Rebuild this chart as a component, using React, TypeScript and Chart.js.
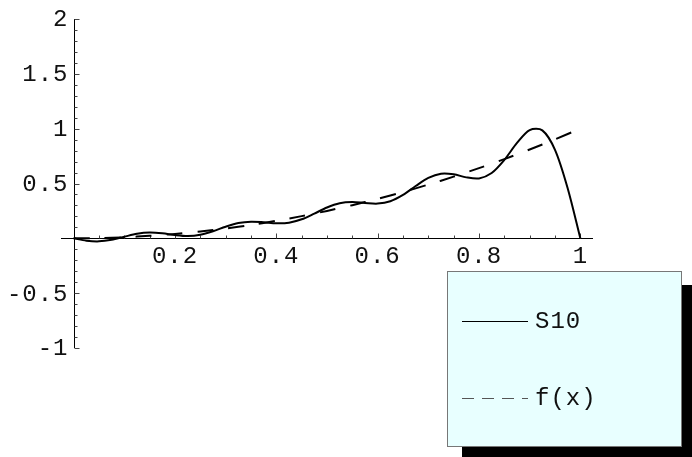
import React, { useEffect, useRef } from "react";
import { Chart, registerables } from "chart.js";

Chart.register(...registerables);

const xS10 = [0, 0.025, 0.05, 0.075, 0.1, 0.125, 0.15, 0.175, 0.2, 0.225, 0.25, 0.275, 0.3, 0.325, 0.35, 0.375, 0.4, 0.425, 0.45, 0.475, 0.5, 0.525, 0.55, 0.575, 0.6, 0.625, 0.65, 0.675, 0.7, 0.725, 0.75, 0.775, 0.8, 0.825, 0.85, 0.875, 0.9, 0.925, 0.95, 0.975, 1];
const s10 = [0, -0.0212, -0.0275, -0.0132, 0.0147, 0.0412, 0.0525, 0.0456, 0.0298, 0.0212, 0.0325, 0.0646, 0.1059, 0.1391, 0.1522, 0.1468, 0.1373, 0.1425, 0.1735, 0.2258, 0.2815, 0.3198, 0.3307, 0.3222, 0.3169, 0.3385, 0.3961, 0.4769, 0.5509, 0.5896, 0.5843, 0.5558, 0.5463, 0.5958, 0.715, 0.8697, 0.9871, 0.9845, 0.8069, 0.4568, 0];

const xF = [0, 0.05, 0.1, 0.15, 0.2, 0.25, 0.3, 0.35, 0.4, 0.45, 0.5, 0.55, 0.6, 0.65, 0.7, 0.75, 0.8, 0.85, 0.9, 0.95, 1];
const fx = [0, 0.0025, 0.01, 0.0225, 0.04, 0.0625, 0.09, 0.1225, 0.16, 0.2025, 0.25, 0.3025, 0.36, 0.4225, 0.49, 0.5625, 0.64, 0.7225, 0.81, 0.9025, 1];

const xTickValues = [0.2, 0.4, 0.6, 0.8, 1];
const xTickLabels = ["0.2", "0.4", "0.6", "0.8", "1"];
const yTickValues = [2, 1.5, 1, 0.5, -0.5, -1];
const yTickLabels = ["2", "1.5", "1", "0.5", "-0.5", "-1"];

const seriesNames = ["S10", "f(x)"];

const FONT = '24px "Liberation Mono", "Courier New", monospace';

const axesPlugin = {
  id: "mmaAxes",
  beforeDatasetsDraw(chart: any) {
    const { ctx, scales } = chart;
    const xs = scales.x;
    const ys = scales.y;
    const x0 = Math.round(xs.getPixelForValue(0)) + 0.5;
    const y0 = Math.round(ys.getPixelForValue(0)) + 0.5;
    ctx.save();
    ctx.strokeStyle = "#000";
    ctx.lineWidth = 1;
    ctx.beginPath();
    ctx.moveTo(xs.getPixelForValue(-0.025), y0);
    ctx.lineTo(xs.getPixelForValue(1.025), y0);
    ctx.stroke();
    ctx.beginPath();
    ctx.moveTo(x0, ys.getPixelForValue(2));
    ctx.lineTo(x0, ys.getPixelForValue(-1));
    ctx.stroke();
    ctx.strokeStyle = "#444";
    for (let i = -10; i <= 20; i++) {
      const v = i / 10;
      const py = Math.round(ys.getPixelForValue(v)) + 0.5;
      const major = i % 5 === 0;
      ctx.beginPath();
      ctx.moveTo(x0, py);
      ctx.lineTo(x0 + (major ? 5 : 3), py);
      ctx.stroke();
    }
    for (let i = 1; i <= 20; i++) {
      const v = i / 20;
      const px = Math.round(xs.getPixelForValue(v)) + 0.5;
      const major = i % 4 === 0;
      ctx.beginPath();
      ctx.moveTo(px, y0);
      ctx.lineTo(px, y0 - (major ? 5 : 3));
      ctx.stroke();
    }
    ctx.fillStyle = "#111";
    ctx.font = FONT;
    try { (ctx as any).letterSpacing = "1px"; } catch (e) {}
    ctx.textBaseline = "middle";
    ctx.textAlign = "right";
    yTickValues.forEach((v, i) => {
      ctx.fillText(yTickLabels[i], x0 - 6, ys.getPixelForValue(v) + 1);
    });
    ctx.textAlign = "center";
    xTickValues.forEach((v, i) => {
      ctx.fillText(xTickLabels[i], xs.getPixelForValue(v), y0 + 18);
    });
    ctx.restore();
  },
  afterDraw(chart: any) {
    const { ctx } = chart;
    const bx = 447, by = 271, bw = 234, bh = 175;
    ctx.save();
    ctx.fillStyle = "#000";
    ctx.fillRect(bx + 15, by + 14, bw, bh);
    ctx.fillStyle = "#e8ffff";
    ctx.fillRect(bx, by, bw, bh);
    ctx.strokeStyle = "#777";
    ctx.lineWidth = 1;
    ctx.strokeRect(bx + 0.5, by + 0.5, bw, bh);
    const rows = [321, 398];
    ctx.font = FONT;
    try { (ctx as any).letterSpacing = "1px"; } catch (e) {}
    ctx.textBaseline = "middle";
    ctx.textAlign = "left";
    chart.data.datasets.forEach((ds: any, i: number) => {
      const yy = rows[i] + 0.5;
      ctx.strokeStyle = i === 0 ? "#000" : "#555";
      ctx.lineWidth = 1;
      ctx.setLineDash(i === 0 ? [] : [12, 8]);
      ctx.beginPath();
      ctx.moveTo(462, yy);
      ctx.lineTo(528, yy);
      ctx.stroke();
      ctx.setLineDash([]);
      ctx.fillStyle = "#111";
      ctx.fillText(seriesNames[i], 535, rows[i] + 1);
    });
    ctx.restore();
  },
};

export default function App() {
  const ref = useRef<HTMLCanvasElement | null>(null);
  useEffect(() => {
    document.body.style.margin = "0";
    if (!ref.current) return;
    const chart = new Chart(ref.current, {
      type: "scatter",
      data: {
        datasets: [
          {
            label: seriesNames[0],
            data: xS10.map((x, i) => ({ x, y: s10[i] })),
            showLine: true,
            borderColor: "#000",
            borderWidth: 2,
            pointRadius: 0,
            tension: 0.3,
            fill: false,
          },
          {
            label: seriesNames[1],
            data: xF.map((x, i) => ({ x, y: fx[i] })),
            showLine: true,
            borderColor: "#000",
            borderWidth: 2,
            borderDash: [16, 15],
            pointRadius: 0,
            tension: 0.3,
            fill: false,
          },
        ],
      },
      options: {
        animation: false,
        responsive: false,
        devicePixelRatio: 1,
        layout: { padding: { left: 61, right: 99, top: 19, bottom: 109 } },
        scales: {
          x: { type: "linear", min: -0.025, max: 1.025, display: false },
          y: { type: "linear", min: -1, max: 2, display: false },
        },
        plugins: { legend: { display: false }, tooltip: { enabled: false } },
        events: [],
      },
      plugins: [axesPlugin],
    });
    return () => chart.destroy();
  }, []);
  return (
    <div style={{ position: "absolute", left: 0, top: 0, width: 692, height: 457, background: "#fff" }}>
      <canvas ref={ref} width={692} height={457} />
    </div>
  );
}
